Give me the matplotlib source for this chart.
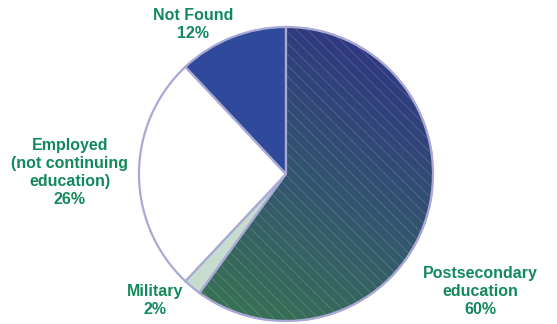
import numpy as np
import matplotlib.pyplot as plt
from matplotlib.colors import LinearSegmentedColormap

plt.rcParams['font.family'] = ['Liberation Sans', 'DejaVu Sans']
plt.rcParams['hatch.linewidth'] = 0.5

# 去向统计（顺时针，从12点方向开始）
categories = ['Postsecondary\neducation', 'Military',
              'Employed\n(not continuing\neducation)', 'Not Found']
shares = [60, 2, 26, 12]
colors = ['#2e3085', '#c6dccf', '#ffffff', '#2f4a9b']

# 标签位置（数据坐标，饼图半径为1）
label_pos = [(1.32, -0.80), (-0.89, -0.86), (-1.47, 0.01), (-0.63, 1.02)]

W, H = 557, 324
fig = plt.figure(figsize=(W / 100, H / 100), dpi=100)
cx, cy, r = 286, 150, 147
ax = fig.add_axes([(cx - r) / W, (cy - r) / H, 2 * r / W, 2 * r / H])

wedges, _ = ax.pie(shares, colors=colors, startangle=90, counterclock=False,
                   radius=1,
                   wedgeprops=dict(edgecolor='#a9a9d6', linewidth=1.6))

# 第一块用渐变填充（右上蓝 -> 左下绿）
grad_cmap = LinearSegmentedColormap.from_list('g', ['#3a7a4c', '#33566f', '#2e2f86'])
gx, gy = np.meshgrid(np.linspace(-1, 1, 300), np.linspace(-1, 1, 300))
t = (gx * 0.45 + gy * 0.9)
t = (t - t.min()) / (t.max() - t.min())
img = ax.imshow(t, cmap=grad_cmap, extent=(-1, 1, -1, 1), origin='lower',
                zorder=wedges[0].get_zorder() + 0.1)
img.set_clip_path(wedges[0])

# 白色细斜线
hatch = plt.matplotlib.patches.Wedge((0, 0), 1, wedges[0].theta1, wedges[0].theta2,
                                     facecolor='none', edgecolor=(1, 1, 1, 0.2),
                                     linewidth=0, hatch='\\\\\\',
                                     zorder=img.get_zorder() + 0.1)
ax.add_patch(hatch)
edge = plt.matplotlib.patches.Wedge((0, 0), 1, wedges[0].theta1, wedges[0].theta2,
                                    facecolor='none', edgecolor='#a9a9d6',
                                    linewidth=1.6, zorder=hatch.get_zorder() + 0.1)
ax.add_patch(edge)

for name, v, (x, y) in zip(categories, shares, label_pos):
    ax.text(x, y, f'{name}\n{v}%', ha='center', va='center', color='#12895d',
            fontsize=11.5, fontweight='bold', linespacing=1.25, clip_on=False)

ax.set_xlim(-1, 1)
ax.set_ylim(-1, 1)
ax.axis('off')

fig.savefig('out.png', dpi=100)
